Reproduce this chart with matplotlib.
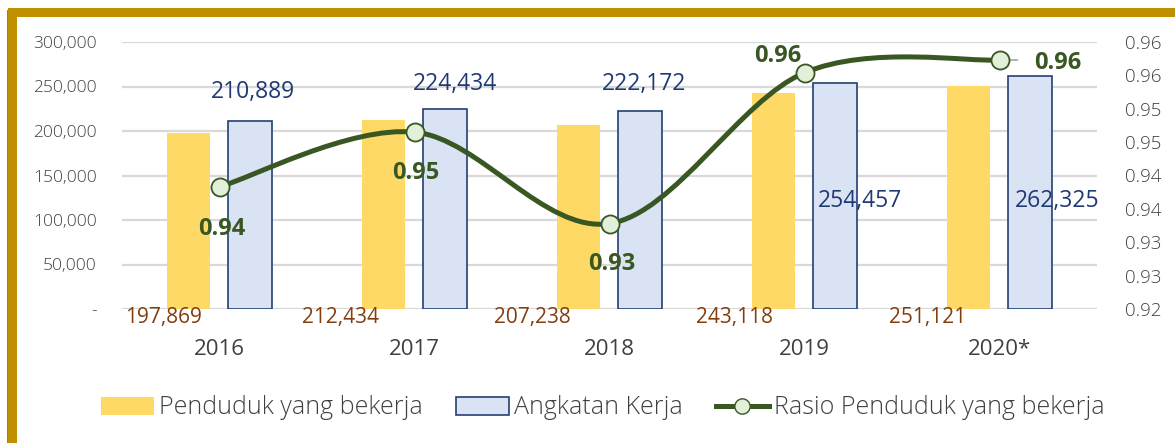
import matplotlib
matplotlib.use('Agg')
import matplotlib.pyplot as plt
import numpy as np
from matplotlib.path import Path
from matplotlib.patches import PathPatch, Rectangle, Patch
from matplotlib.lines import Line2D

plt.rcParams['font.family'] = ['Open Sans', 'DejaVu Sans']

years = ['2016', '2017', '2018', '2019', '2020*']
bekerja = [197869, 212434, 207238, 243118, 251121]
angkatan = [210889, 224434, 222172, 254457, 262325]
rasio = [0.9383, 0.9465, 0.9328, 0.9554, 0.9573]
rasio_labels = ['0.94', '0.95', '0.93', '0.96', '0.96']
left_ticks = [0, 50000, 100000, 150000, 200000, 250000, 300000]
right_ticks = [0.92, 0.925, 0.93, 0.935, 0.94, 0.945, 0.95, 0.955, 0.96]
right_labels = ['0.92', '0.93', '0.93', '0.94', '0.94', '0.95', '0.95', '0.96', '0.96']

YELLOW = '#FFD966'
BLUE_FILL = '#DAE3F3'
BLUE_EDGE = '#243F73'
BLUE_TEXT = '#1F3A73'
BROWN = '#843C0C'
GREEN = '#385723'
GREEN_FILL = '#E2F0D9'
GOLD = '#C09000'
TICK = '#404040'

# label offsets in pixels (dx, dy), hand placed like the original
brown_off = [(-56, -8), (-74, -8), (-77, -8), (-70, -8), (-72, -8)]
blue_off = [(3, 29), (10, 25), (4, 27), (25, -118), (27, -125)]
green_off = [(2.5, -42), (1.5, -41), (2.5, -40.5), (-26.5, 17), (58.5, -3)]


def smooth_path(xs, ys):
    # Excel-style smoothed line (cardinal spline as cubic bezier)
    pts = np.column_stack([xs, ys])
    ext = np.vstack([pts[0], pts, pts[-1]])
    verts = [pts[0]]
    codes = [Path.MOVETO]
    for i in range(len(pts) - 1):
        p0, p1, p2, p3 = ext[i], ext[i + 1], ext[i + 2], ext[i + 3]
        verts += [p1 + (p2 - p0) / 6.0, p2 - (p3 - p1) / 6.0, p2]
        codes += [Path.CURVE4] * 3
    return Path(verts, codes)


W, H = 1175, 443
fig = plt.figure(figsize=(W / 100, H / 100), dpi=100)
ax = fig.add_axes([122 / W, 1 - 309 / H, (1097 - 122) / W, (309 - 42) / H])
ax2 = ax.twinx()

x = np.arange(len(years))
off = 0.157
ax.bar(x - off, bekerja, width=0.22, color=YELLOW, zorder=2)
ax.bar(x + off, angkatan, width=0.225, color=BLUE_FILL, edgecolor=BLUE_EDGE, lw=1.2, zorder=2)

ax.set_xlim(-0.5, len(years) - 0.5)
ax.set_ylim(0, 300000)
ax.set_yticks(left_ticks)
ax.set_yticklabels(['-'] + ['{:,}'.format(v) for v in left_ticks[1:]], fontweight='light')
ax.yaxis.grid(True, color='#D9D9D9', lw=1.6)
ax.set_axisbelow(True)
ax.set_xticks([])
ax.tick_params(axis='y', length=0, pad=18, labelsize=12.5, labelcolor=TICK)
for s in ax.spines.values():
    s.set_visible(False)

for i, yr in enumerate(years):
    ax.text(i, -0.15, yr, transform=ax.get_xaxis_transform(), ha='center', va='center',
            fontsize=16, color=TICK)

for i in range(len(years)):
    dx, dy = brown_off[i]
    ax.annotate('{:,}'.format(bekerja[i]), xy=(i, 0), xytext=(dx * 0.72, dy * 0.72),
                textcoords='offset points', ha='center', va='center', fontsize=15, color=BROWN)
    dx, dy = blue_off[i]
    ax.annotate('{:,}'.format(angkatan[i]), xy=(i + off, angkatan[i]), xytext=(dx * 0.72, dy * 0.72),
                textcoords='offset points', ha='center', va='center', fontsize=16.5, color=BLUE_TEXT)

ax2.set_ylim(0.92, 0.96)
ax2.set_yticks(right_ticks)
ax2.set_yticklabels(right_labels, fontweight='light')
ax2.tick_params(axis='y', length=0, pad=20, labelsize=13.5, labelcolor=TICK)
for s in ax2.spines.values():
    s.set_visible(False)

ax2.add_patch(PathPatch(smooth_path(x, rasio), fill=False, edgecolor=GREEN, lw=3.6,
                        capstyle='round', zorder=3))
ax2.plot(x, rasio, 'o', ms=13, mfc=GREEN_FILL, mec=GREEN, mew=1.3, zorder=5)
ax2.annotate('', xy=(x[-1], rasio[-1]), xytext=(18 * 0.72, 0), textcoords='offset points',
             arrowprops=dict(arrowstyle='-', color='#A6A6A6', lw=1.2, shrinkA=0, shrinkB=0), zorder=4)
for i in range(len(years)):
    dx, dy = green_off[i]
    ax2.annotate(rasio_labels[i], xy=(i, rasio[i]), xytext=(dx * 0.72, dy * 0.72),
                 textcoords='offset points', ha='center', va='center', fontsize=17,
                 fontweight='bold', color=GREEN, zorder=6)

handles = [Patch(facecolor=YELLOW, edgecolor='none'),
           Patch(facecolor=BLUE_FILL, edgecolor=BLUE_EDGE, lw=1.2),
           Line2D([], [], color=GREEN, lw=3.6, marker='o', ms=11, mfc=GREEN_FILL, mec=GREEN)]
fig.legend(handles, ['Penduduk yang bekerja', 'Angkatan Kerja', 'Rasio Penduduk yang bekerja'],
           loc='center', bbox_to_anchor=(0.513, 1 - 408 / H), ncol=3, frameon=False,
           prop={'size': 18, 'weight': 'light'}, handlelength=2.12, handleheight=0.7,
           handletextpad=0.2, columnspacing=1.32, labelcolor=TICK)

# golden frame of the original slide
fig.add_artist(Rectangle((7 / W, 0), 1.3 / W, (H - 10) / H, transform=fig.transFigure,
                         color='#808080', lw=0))
fig.add_artist(Rectangle((8 / W, 0), 9 / W, (H - 8) / H, transform=fig.transFigure,
                         color=GOLD, lw=0))
fig.add_artist(Rectangle((8 / W, 1 - 17 / H), 1, 9 / H, transform=fig.transFigure,
                         color=GOLD, lw=0))

fig.savefig('out.png', dpi=100)
